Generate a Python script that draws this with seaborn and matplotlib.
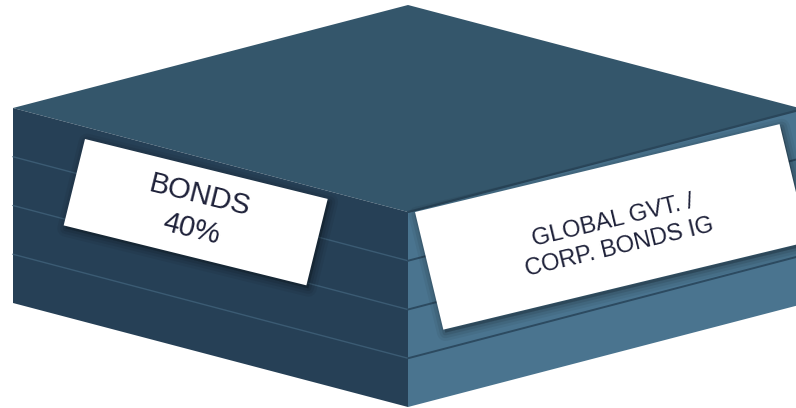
import numpy as np
import matplotlib
matplotlib.use("Agg")
import matplotlib.pyplot as plt
import seaborn as sns
from matplotlib.patches import Polygon

# ---- content ----
category = "BONDS"
share_pct = 40
sub_category = ["GLOBAL GVT. /", "CORP. BONDS IG"]
n_layers = 4

# ---- colours ----
top_color = "#34566b"
left_color = "#264056"
right_color = "#4a748f"
left_line = "#3b5b73"
right_line = "#2c4a60"
text_color = "#1e2139"

sns.set_theme(style="white")
plt.rcParams['font.family'] = ['Liberation Sans', 'DejaVu Sans']

W, H = 796, 408
fig = plt.figure(figsize=(W / 100, H / 100), dpi=100)
ax = fig.add_axes([0, 0, 1, 1])
ax.set_xlim(0, W)
ax.set_ylim(H, 0)
ax.axis('off')

front = np.array([408.0, 212.0])
lv = np.array([-395.0, -104.0])
rv = np.array([395.0, -103.0])
hv = np.array([0.0, 195.0])


def poly(pts, z=1, **kw):
    p = Polygon(np.array(pts), closed=True, zorder=z, **kw)
    ax.add_patch(p)
    return p


poly([front, front + lv, front + lv + rv, front + rv], fc=top_color, ec='none')
poly([front, front + lv, front + lv + hv, front + hv], fc=left_color, ec='none')
poly([front, front + rv, front + rv + hv, front + hv], fc=right_color, ec='none')

# edge shadow between top and right face
ax.plot([front[0], (front + rv)[0]], [front[1], (front + rv)[1]], color="#2a465a", lw=1.6, zorder=2)

for i in range(1, n_layers):
    t = hv * i / n_layers
    a, b = front + lv + t, front + t
    ax.plot([a[0], b[0]], [a[1], b[1]], color=left_line, lw=1.0, zorder=2)
    c = front + rv + t
    ax.plot([b[0], c[0]], [b[1], c[1]], color=right_line, lw=1.4, zorder=2)


def rect(tl, ang, w, h):
    th = np.deg2rad(ang)
    u = np.array([np.cos(th), np.sin(th)])
    v = np.array([-np.sin(th), np.cos(th)])
    tl = np.array(tl, dtype=float)
    pts = [tl, tl + w * u, tl + w * u + h * v, tl + h * v]
    return pts, tl + u * w / 2 + v * h / 2


def label(tl, ang, w, h, txt, fs, ls, cx=None, cy=None):
    pts, c = rect(tl, ang, w, h)
    for lw, al in [(12, 0.05), (8, 0.07), (4, 0.09)]:
        sh = [p + np.array([2.0, 3.0]) for p in pts]
        poly(sh, z=4, fc=(0, 0, 0, al), ec=(0, 0, 0, al), lw=lw, joinstyle='round')
    poly(pts, z=5, fc='white', ec='none')
    x = c[0] if cx is None else cx
    y = c[1] if cy is None else cy
    ax.text(x, y, txt, rotation=-ang, rotation_mode='anchor',
            ha='center', va='center', multialignment='center',
            fontsize=fs, color=text_color, linespacing=ls, zorder=6)


label((85, 139), 13.87, 250, 89, f"{category}\n{share_pct}%", 21, 1.3)
label((415, 212), -13.55, 375, 121, "\n".join(sub_category), 17, 1.3, 616, 234)

fig.savefig("out.png", dpi=100)
